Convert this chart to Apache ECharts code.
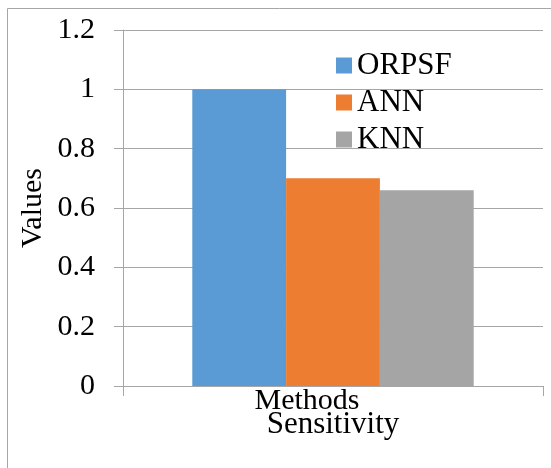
<!DOCTYPE html>
<html>
<head>
<meta charset="utf-8">
<script src="https://cdn.jsdelivr.net/npm/echarts@6/dist/echarts.min.js"></script>
<style>
html,body{margin:0;padding:0;background:#fff;}
#chart{width:551px;height:468px;}
</style>
</head>
<body>
<div id="chart"></div>
<script>
var categories = ['Sensitivity'];
var seriesNames = ['ORPSF', 'ANN', 'KNN'];
var orpsfValues = [1.0];
var annValues = [0.7];
var knnValues = [0.66];
var yTicks = { min: 0, max: 1.2, interval: 0.2 };
var colors = ['#5B9BD5', '#ED7D31', '#A5A5A5'];
var FONT = 'Liberation Serif';

var chart = echarts.init(document.getElementById('chart'), null, { renderer: 'canvas' });
var allValues = [orpsfValues, annValues, knnValues];
chart.setOption({
  animation: false,
  backgroundColor: '#fff',
  graphic: [{
    type: 'rect', shape: { x: 7.5, y: 8.5, width: 600, height: 500 },
    style: { fill: 'none', stroke: '#a6a6a6', lineWidth: 1 }, silent: true
  }],
  grid: { left: 123, right: 8, top: 30, bottom: 82, containLabel: false, outerBoundsMode: 'none' },
  legend: {
    orient: 'vertical', left: 336, top: 50, padding: 0,
    itemWidth: 16, itemHeight: 16, itemGap: 6, itemTextGap: 7, icon: 'rect',
    data: seriesNames,
    textStyle: { fontFamily: FONT, fontSize: 31, color: '#000' }
  },
  xAxis: {
    type: 'category', data: categories,
    name: 'Methods', nameLocation: 'middle', nameGap: 0, nameMoveOverlap: false,
    nameTextStyle: { fontFamily: FONT, fontSize: 30, color: '#000', padding: [0, 52, 0, 0] },
    axisLine: { show: true, lineStyle: { color: '#a6a6a6', width: 1 } },
    axisTick: { show: true, length: 10, lineStyle: { color: '#a6a6a6' } },
    axisLabel: { fontFamily: FONT, fontSize: 31, color: '#000', margin: 23 }
  },
  yAxis: {
    type: 'value', min: yTicks.min, max: yTicks.max, interval: yTicks.interval,
    name: 'Values', nameLocation: 'middle', nameGap: 75, nameMoveOverlap: false,
    nameTextStyle: { fontFamily: FONT, fontSize: 30, color: '#000' },
    axisLine: { show: true, lineStyle: { color: '#a6a6a6', width: 1 } },
    axisTick: { show: true, length: 9, lineStyle: { color: '#a6a6a6' } },
    splitLine: { show: true, lineStyle: { color: '#a6a6a6', width: 1 } },
    axisLabel: {
      fontFamily: FONT, fontSize: 30, color: '#000', margin: 28,
      formatter: function (v) { return String(Math.round(v * 10) / 10); }
    }
  },
  series: seriesNames.map(function (n, i) {
    return {
      name: n, type: 'bar', data: allValues[i],
      barGap: '0%', barCategoryGap: '33%',
      itemStyle: { color: colors[i] }
    };
  })
});
</script>
</body>
</html>
